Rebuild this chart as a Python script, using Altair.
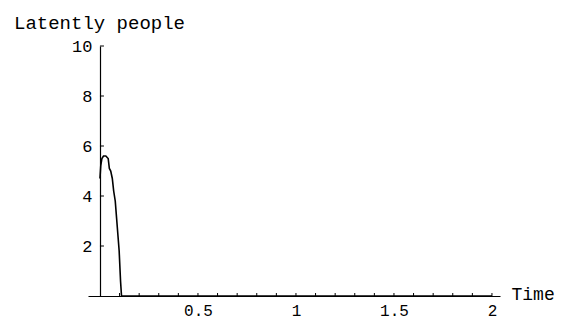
import altair as alt
import pandas as pd

# Curve values
time = [0.0, 0.004, 0.010, 0.018, 0.030, 0.042, 0.048, 0.055, 0.063, 0.070, 0.078, 0.085, 0.092, 0.098, 0.105, 0.110, 0.5, 1.0, 2.0]
latent = [4.7, 5.2, 5.5, 5.6, 5.6, 5.5, 5.1, 5.0, 4.7, 4.2, 3.8, 3.1, 2.4, 1.8, 0.6, 0.0, 0.0, 0.0, 0.0]

x_labels = [0.5, 1, 1.5, 2]
y_labels = [2, 4, 6, 8, 10]
x_ticks = [0.1, 0.2, 0.3, 0.4, 0.5, 0.6, 0.7, 0.8, 0.9, 1.0,
           1.1, 1.2, 1.3, 1.4, 1.5, 1.6, 1.7, 1.8, 1.9, 2.0]

FONT = "Liberation Mono"

df = pd.DataFrame({"t": time, "v": latent})
xt = pd.DataFrame({"t": x_ticks})
yt = pd.DataFrame({"v": y_labels})

xscale = alt.Scale(domain=[-0.061, 2.041], nice=False, zero=False)
yscale = alt.Scale(domain=[0, 10], nice=False)

line = alt.Chart(df).mark_line(color="black", strokeWidth=1.6).encode(
    x=alt.X("t:Q", scale=xscale,
            axis=alt.Axis(values=x_labels, ticks=False, grid=False,
                          domainColor="black", domainWidth=1.2,
                          labelFont=FONT, labelFontSize=16, labelColor="black",
                          labelPadding=19, labelBaseline="alphabetic",
                          labelExpr="datum.value == 1 || datum.value == 2 ? format(datum.value, 'd') : format(datum.value, '.1f')",
                          title="Time", titleFont=FONT, titleFontSize=18,
                          titleFontWeight="normal", titleColor="black",
                          titleX=423, titleY=-2, titleAlign="left",
                          titleBaseline="middle", titleAngle=0)),
    y=alt.Y("v:Q", scale=yscale,
            axis=alt.Axis(values=y_labels, ticks=False, grid=False, offset=-12,
                          domainColor="black", domainWidth=1.2,
                          labelFont=FONT, labelFontSize=17, labelColor="black",
                          labelPadding=8,
                          title="Latently people", titleFont=FONT, titleFontSize=19,
                          titleFontWeight="normal", titleColor="black",
                          titleAngle=0, titleX=-1, titleY=-24,
                          titleAlign="center", titleBaseline="middle")),
)

xtick_layer = alt.Chart(xt).mark_rule(color="black", strokeWidth=1, y2Offset=-3).encode(
    x=alt.X("t:Q", scale=xscale),
    y=alt.YDatum(0),
    y2=alt.Y2Datum(0),
)

ytick_layer = alt.Chart(yt).mark_rule(color="black", strokeWidth=1, x2Offset=4).encode(
    y=alt.Y("v:Q", scale=yscale),
    x=alt.XDatum(0),
    x2=alt.X2Datum(0),
)

chart = alt.layer(line, xtick_layer, ytick_layer).properties(
    width=412, height=250,
    autosize=alt.AutoSizeParams(type="none"),
    padding={"left": 80, "top": 38, "right": 55, "bottom": 24},
    background="white",
).configure_view(stroke=None)

chart.save("out.html", embed_options={"renderer": "svg", "actions": False})
